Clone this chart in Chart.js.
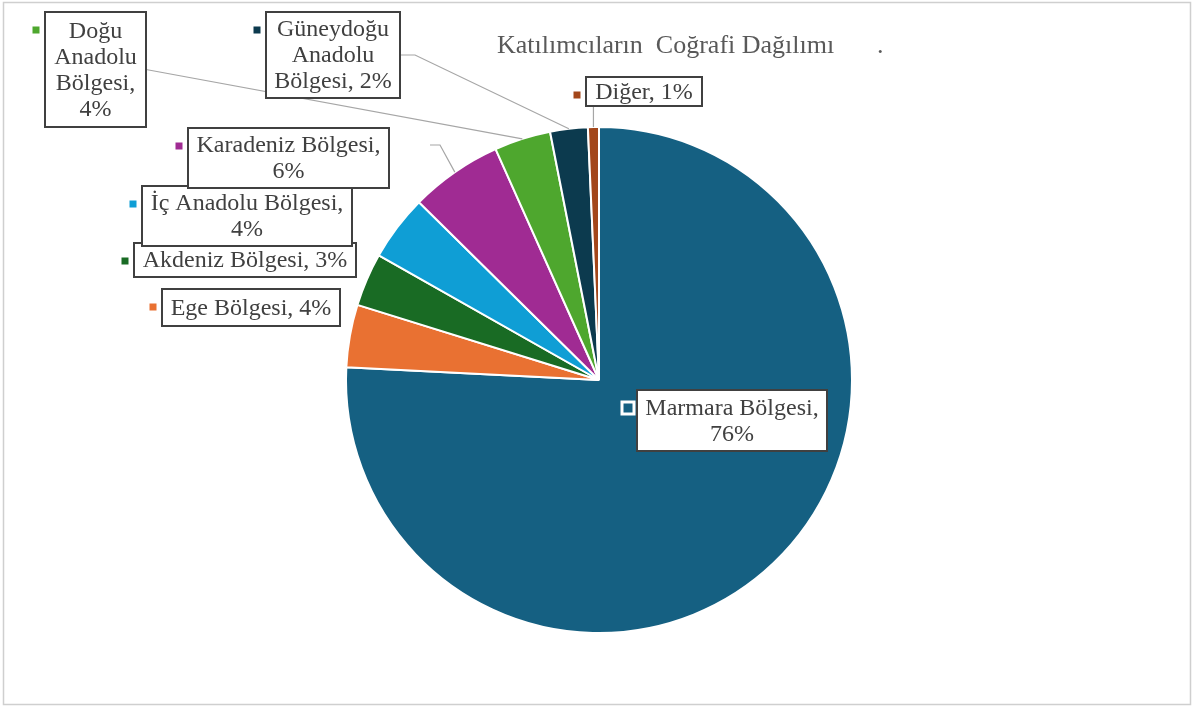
<!DOCTYPE html>
<html>
<head>
<meta charset="utf-8">
<script src="https://cdn.jsdelivr.net/npm/chart.js@4.4.1/dist/chart.umd.min.js"></script>
<style>
  html, body { margin: 0; padding: 0; background: #fff; }
  canvas { display: block; }
</style>
</head>
<body>
<canvas id="chart" width="1192" height="707"></canvas>
<script>
// data
const categories = ['Marmara Bölgesi', 'Ege Bölgesi', 'Akdeniz Bölgesi', 'İç Anadolu Bölgesi',
  'Karadeniz Bölgesi', 'Doğu Anadolu Bölgesi', 'Güneydoğu Anadolu Bölgesi', 'Diğer'];
const shares = [75.8, 4.0, 3.4, 4.2, 5.9, 3.6, 2.4, 0.7];
const sliceColors = ['#156082', '#E97132', '#196B24', '#0F9ED5', '#A02B93', '#4EA72E', '#0C3A4E', '#A3461A'];
const chartTitle = 'Katılımcıların  Coğrafi Dağılımı';

// callout layout, same order as categories
const calloutBoxes = [
  { x: 637, y: 390, w: 190, h: 61, leader: 'none', inside: true },
  { x: 162, y: 289, w: 178, h: 37, leader: 'none' },
  { x: 134, y: 243, w: 222, h: 34, leader: 'none' },
  { x: 142, y: 186, w: 210, h: 60, leader: 'none' },
  { x: 188, y: 128, w: 201, h: 60, leader: 'side', from: [430, 145], stub: 10 },
  { x: 45, y: 12, w: 101, h: 115, leader: 'side' },
  { x: 266, y: 12, w: 134, h: 86, leader: 'side', stub: 15 },
  { x: 586, y: 77, w: 116, h: 29, leader: 'bottom' }
];
const drawOrder = [1, 2, 3, 4, 5, 6, 7, 0];

const FONT = '24px "Liberation Serif", "Times New Roman", serif';
const LINE_H = 26;

function wrapText(ctx, text, maxW) {
  const words = text.split(' ');
  const lines = [];
  let cur = '';
  words.forEach(w => {
    const test = cur ? cur + ' ' + w : w;
    if (cur && ctx.measureText(test).width > maxW) {
      lines.push(cur);
      cur = w;
    } else {
      cur = test;
    }
  });
  if (cur) lines.push(cur);
  return lines;
}

const calloutPlugin = {
  id: 'callouts',
  beforeDraw(chart) {
    const ctx = chart.ctx;
    ctx.save();
    ctx.fillStyle = '#fff';
    ctx.fillRect(0, 0, chart.width, chart.height);
    ctx.strokeStyle = '#cfcfcf';
    ctx.lineWidth = 1.5;
    ctx.strokeRect(3.5, 2.5, 1187, 702);
    ctx.restore();
  },
  afterDatasetsDraw(chart) {
    const ctx = chart.ctx;
    const meta = chart.getDatasetMeta(0);
    ctx.save();

    // title
    ctx.font = '26px "Liberation Serif", "Times New Roman", serif';
    ctx.fillStyle = '#595959';
    ctx.textBaseline = 'middle';
    ctx.textAlign = 'left';
    ctx.fillText(chartTitle, 497, 46);
    ctx.fillText('.', 877, 46);

    // leader lines
    ctx.strokeStyle = '#a6a6a6';
    ctx.lineWidth = 1.2;
    calloutBoxes.forEach((b, i) => {
      if (b.leader === 'none') return;
      const arc = meta.data[i];
      const p = arc.getProps(['x', 'y', 'startAngle', 'endAngle', 'outerRadius'], true);
      const mid = (p.startAngle + p.endAngle) / 2;
      const ex = p.x + Math.cos(mid) * p.outerRadius;
      const ey = p.y + Math.sin(mid) * p.outerRadius;
      ctx.beginPath();
      if (b.leader === 'bottom') {
        ctx.moveTo(ex, b.y + b.h);
        ctx.lineTo(ex, ey);
      } else {
        const sx = b.from ? b.from[0] : b.x + b.w;
        const sy = b.from ? b.from[1] : b.y + b.h / 2;
        ctx.moveTo(sx, sy);
        if (b.stub) ctx.lineTo(sx + b.stub, sy);
        ctx.lineTo(ex, ey);
      }
      ctx.stroke();
    });

    // boxes
    ctx.font = FONT;
    drawOrder.forEach(i => {
      const b = calloutBoxes[i];
      ctx.fillStyle = '#fff';
      ctx.fillRect(b.x, b.y, b.w, b.h);
      ctx.strokeStyle = '#404040';
      ctx.lineWidth = 2;
      ctx.strokeRect(b.x, b.y, b.w, b.h);

      // legend key
      const kx = b.x - 9, ky = b.y + 18;
      if (b.inside) {
        ctx.fillStyle = '#fff';
        ctx.fillRect(kx - 7.5, ky - 7.5, 15, 15);
        ctx.fillStyle = sliceColors[i];
        ctx.fillRect(kx - 4.5, ky - 4.5, 9, 9);
      } else {
        ctx.fillStyle = sliceColors[i];
        ctx.fillRect(kx - 3.5, ky - 3.5, 7, 7);
      }

      const text = categories[i] + ', ' + Math.round(shares[i]) + '%';
      const lines = wrapText(ctx, text, b.w - 6);
      ctx.fillStyle = '#404040';
      ctx.textAlign = 'center';
      ctx.textBaseline = 'middle';
      const top = b.y + (b.h - lines.length * LINE_H) / 2 + LINE_H / 2 + 1;
      lines.forEach((ln, k) => ctx.fillText(ln, b.x + b.w / 2, top + k * LINE_H));
    });
    ctx.restore();
  }
};

new Chart(document.getElementById('chart'), {
  type: 'pie',
  data: {
    labels: categories,
    datasets: [{
      data: shares,
      backgroundColor: sliceColors,
      borderColor: '#ffffff',
      borderWidth: 2
    }]
  },
  options: {
    responsive: false,
    animation: false,
    layout: { padding: { left: 345, right: 339, top: 126, bottom: 73 } },
    plugins: {
      legend: { display: false },
      tooltip: { enabled: false },
      title: { display: false }
    }
  },
  plugins: [calloutPlugin]
});
</script>
</body>
</html>
